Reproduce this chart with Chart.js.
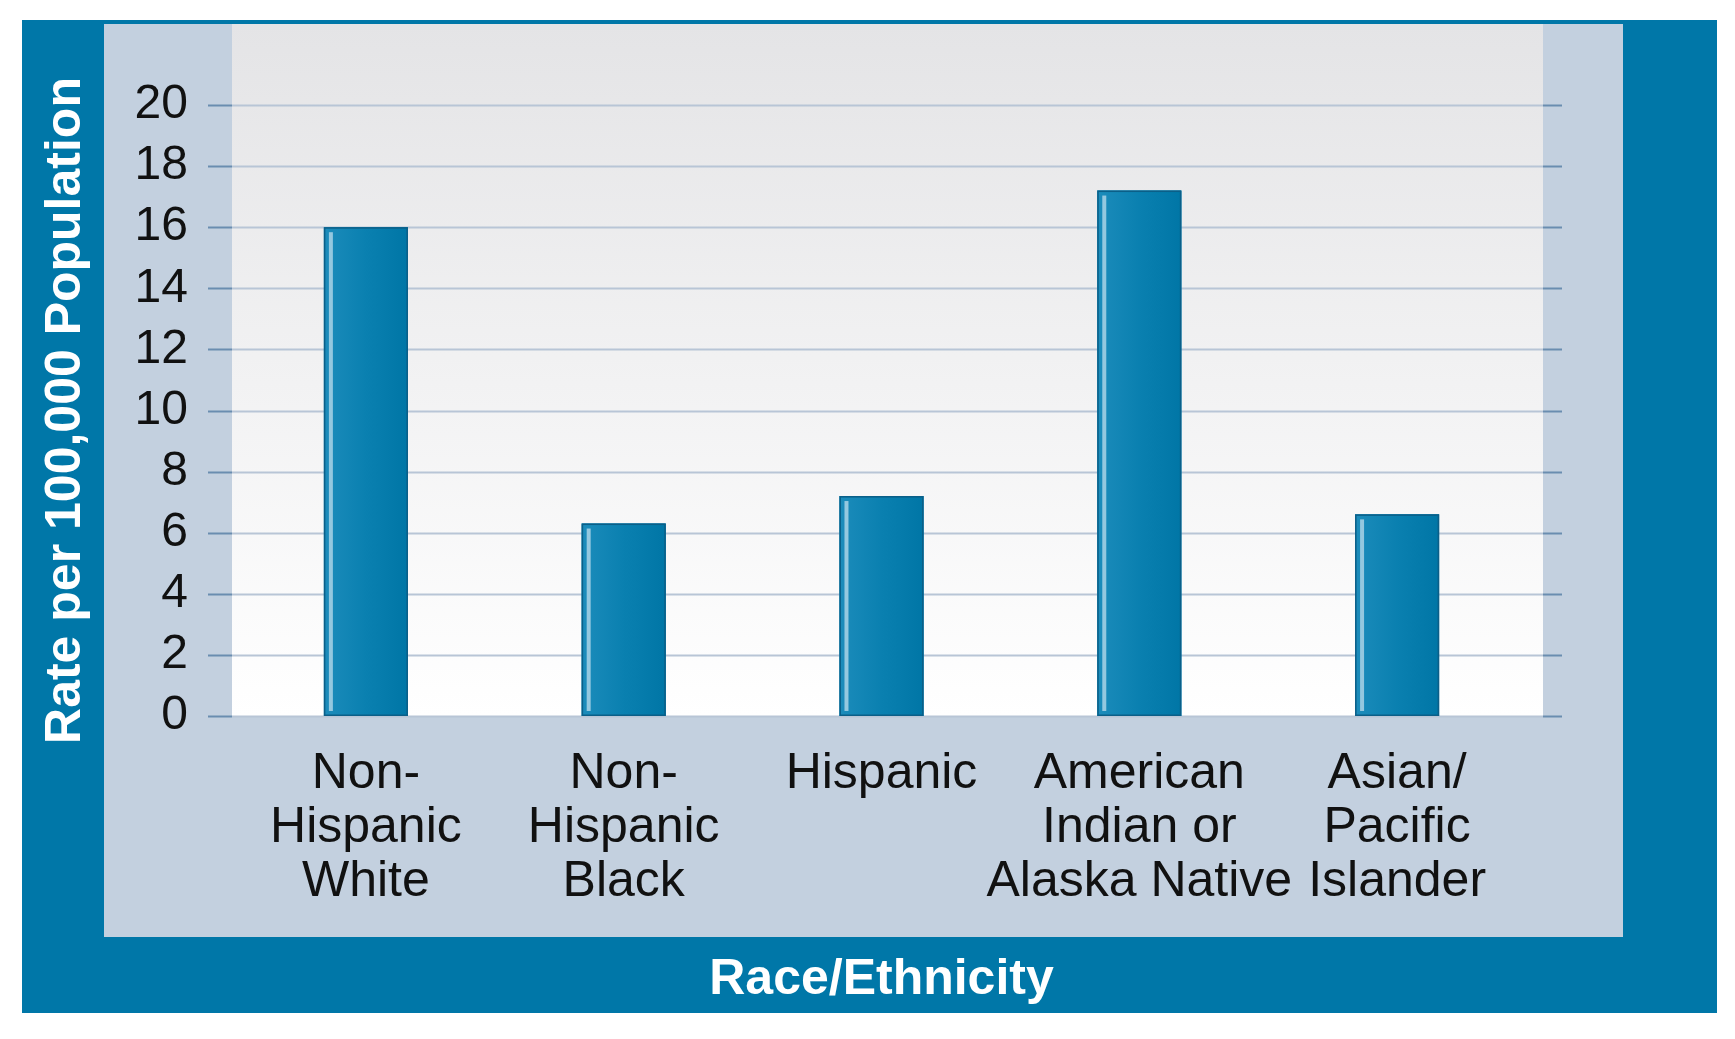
<!DOCTYPE html>
<html>
<head>
<meta charset="utf-8">
<title>Rate by Race/Ethnicity</title>
<script src="https://cdn.jsdelivr.net/npm/chart.js@4"></script>
<style>
  html, body { margin: 0; padding: 0; background: #fff; }
  #wrap { width: 1735px; height: 1039px; position: relative; }
</style>
</head>
<body>
<div id="wrap"><canvas id="rateChart"></canvas></div>
<script>
// dados do gráfico
const categories = [
  ['Non-', 'Hispanic', 'White'],
  ['Non-', 'Hispanic', 'Black'],
  ['Hispanic'],
  ['American', 'Indian or', 'Alaska Native'],
  ['Asian/', 'Pacific', 'Islander']
];
const rates = [16.0, 6.3, 7.2, 17.2, 6.6];
const yTicks = [0, 2, 4, 6, 8, 10, 12, 14, 16, 18, 20];

const FONT = '"Liberation Sans", Arial, Helvetica, sans-serif';
const BLUE = '#0077a8';
const PANEL = '#c3d0df';

// 1. Moldura, painel e fundo da área do gráfico
const framePlugin = {
  id: 'frame',
  beforeDraw(chart) {
    const { ctx, chartArea: a } = chart;
    ctx.save();
    ctx.fillStyle = '#ffffff';
    ctx.fillRect(0, 0, chart.width, chart.height);
    ctx.fillStyle = BLUE;
    ctx.fillRect(22, 20, 1695, 993);
    ctx.fillStyle = PANEL;
    ctx.fillRect(104, 24, 1519, 913);
    const g = ctx.createLinearGradient(0, 24, 0, a.bottom);
    g.addColorStop(0, '#e4e4e6');
    g.addColorStop(1, '#ffffff');
    ctx.fillStyle = g;
    ctx.fillRect(a.left - 5, 24, (a.right + 17) - (a.left - 5), a.bottom - 24);
    ctx.restore();
  },
  beforeDatasetsDraw(chart) {
    const { ctx, chartArea: a, scales: { y } } = chart;
    ctx.save();
    ctx.lineWidth = 2;
    y.ticks.forEach(t => {
      const py = Math.round(y.getPixelForValue(t.value)) + 0.5;
      ctx.strokeStyle = '#b8c5d6';
      ctx.beginPath();
      ctx.moveTo(a.left - 5, py);
      ctx.lineTo(a.right + 17, py);
      ctx.stroke();
      ctx.strokeStyle = '#6a8db0';
      ctx.beginPath();
      ctx.moveTo(a.left - 29, py);
      ctx.lineTo(a.left - 5, py);
      ctx.moveTo(a.right + 17, py);
      ctx.lineTo(a.right + 36, py);
      ctx.stroke();
    });
    ctx.restore();
  },
  // 2. Gradiente e brilho das barras
  afterDatasetsDraw(chart) {
    const { ctx } = chart;
    ctx.save();
    chart.getDatasetMeta(0).data.forEach(bar => {
      const w = bar.width;
      const l = bar.x - w / 2;
      const top = bar.y;
      const h = bar.base - bar.y;
      const g = ctx.createLinearGradient(l, 0, l + w, 0);
      g.addColorStop(0, '#1c8cbb');
      g.addColorStop(0.5, '#0a80b0');
      g.addColorStop(1, '#0076a6');
      ctx.fillStyle = g;
      ctx.fillRect(l, top, w, h);
      ctx.strokeStyle = '#0b5f88';
      ctx.lineWidth = 1.5;
      ctx.strokeRect(l + 0.75, top + 0.75, w - 1.5, h - 1.5);
      ctx.fillStyle = 'rgba(190, 220, 236, 0.75)';
      ctx.fillRect(l + 5, top + 5, 4, h - 10);
    });
    ctx.restore();
  }
};

// 3. Inicialização do gráfico (Chart.js)
const ctx = document.getElementById('rateChart').getContext('2d');
new Chart(ctx, {
  type: 'bar',
  data: {
    labels: categories,
    datasets: [{
      label: 'Rate per 100,000 Population',
      data: rates,
      backgroundColor: '#0a80b0',
      borderWidth: 0,
      categoryPercentage: 1,
      barPercentage: 0.326
    }]
  },
  options: {
    responsive: true,
    maintainAspectRatio: false,
    animation: false,
    devicePixelRatio: 1,
    layout: { padding: { top: 105, right: 209, bottom: 0, left: 0 } },
    plugins: { legend: { display: false }, tooltip: { enabled: false } },
    scales: {
      x: {
        offset: true,
        grid: { display: false },
        border: { display: false },
        ticks: {
          color: '#111',
          font: { family: FONT, size: 50, lineHeight: 1.08 },
          padding: 23,
          maxRotation: 0,
          autoSkip: false
        },
        title: {
          display: true,
          text: 'Race/Ethnicity',
          color: '#ffffff',
          font: { family: FONT, size: 50, weight: 'bold', lineHeight: 1.2 },
          padding: { top: 0, bottom: 29 }
        },
        afterFit: s => { s.height = 323; }
      },
      y: {
        min: 0,
        max: 20,
        afterBuildTicks: s => { s.ticks = yTicks.map(v => ({ value: v })); },
        grid: { display: false, drawTicks: false },
        border: { display: false },
        ticks: {
          color: '#111',
          font: { family: FONT, size: 48 },
          padding: 49
        },
        title: {
          display: true,
          text: 'Rate per 100,000 Population',
          color: '#ffffff',
          font: { family: FONT, size: 50, weight: 'bold', lineHeight: 1.2 },
          padding: { top: 36, bottom: 0 }
        },
        afterFit: s => { s.width = 237; }
      }
    }
  },
  plugins: [framePlugin]
});
</script>
</body>
</html>
